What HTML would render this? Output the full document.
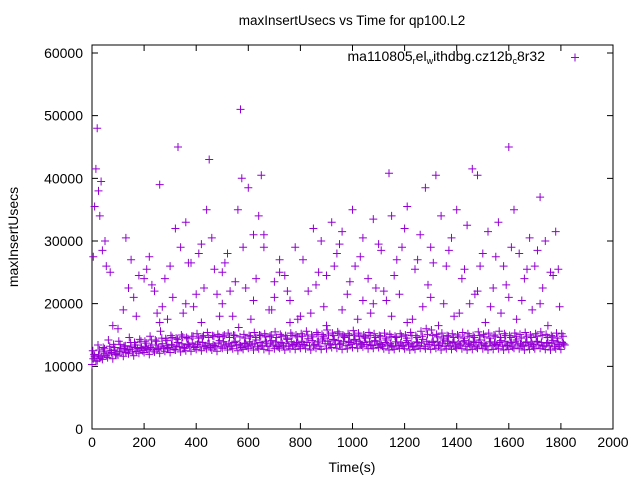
<!DOCTYPE html>
<html><head><meta charset="utf-8"><style>
html,body{margin:0;padding:0;background:#fff}
svg{display:block;font-family:"Liberation Sans",sans-serif}
</style></head><body>
<svg id="chart" width="640" height="480" viewBox="0 0 640 480" xmlns="http://www.w3.org/2000/svg">
<rect width="640" height="480" fill="#fff"/>
<text x="352" y="25" font-size="13.5" text-anchor="middle">maxInsertUsecs vs Time for qp100.L2</text>
<text transform="translate(18,237) rotate(-90)" font-size="14" text-anchor="middle">maxInsertUsecs</text>
<text x="352" y="472" font-size="14" text-anchor="middle">Time(s)</text>
<g id="axes"></g>
<g id="points"></g>
<g>
<text x="545" y="61" font-size="14" text-anchor="end">ma110805<tspan font-size="9" dy="3">r</tspan><tspan dy="-3">el</tspan><tspan font-size="9" dy="3">w</tspan><tspan dy="-3">ithdbg.cz12b</tspan><tspan font-size="9" dy="3">c</tspan><tspan dy="-3">8r32</tspan></text>
<path d="M571 57.5h8M575 53.5v8" stroke="#9400d3" stroke-width="1"/>
</g>
</svg>
<script>
const xTicks=[0,200,400,600,800,1000,1200,1400,1600,1800,2000];
const yTicks=[0,10000,20000,30000,40000,50000,60000];
const bandTimes=[];for(let t=0;t<=1800;t+=20)bandTimes.push(t);
const bandLow=[10.3,10.9,11.1,11.4,11.2,11.8,11.6,12.0,11.7,12.1,12.2,11.9,12.3,12.1,12.4,12.2,12.6,12.3,12.5,12.4,12.7,12.5,12.8,12.6,12.4,12.9,12.6,12.8,12.5,12.7,12.9,12.6,12.8,12.7,12.5,12.8,12.9,12.6,12.8,12.7,12.9,12.8,12.6,12.9,12.7,12.8,13.0,12.9,12.7,12.8,13.0,12.9,13.1,12.8,12.9,13.0,12.8,12.6,12.7,12.9,12.8,12.6,12.7,12.9,12.8,12.7,12.9,12.6,12.8,12.7,12.9,12.8,12.6,12.7,12.9,12.8,12.6,12.7,12.8,12.6,12.7,12.9,12.8,12.6,12.7,12.8,12.9,12.7,12.6,12.8,12.7];
const bandMid=[11.2,11.8,12.3,12.0,12.6,12.4,12.9,12.7,13.0,12.8,13.2,13.0,13.4,13.1,13.3,13.5,13.2,13.6,13.4,13.7,13.5,13.8,13.6,13.4,13.7,13.9,13.6,13.8,13.5,13.7,13.9,13.6,13.8,14.0,13.7,13.9,13.8,13.6,13.9,13.7,14.0,13.8,14.1,13.9,14.2,14.0,14.3,14.1,13.9,14.0,14.2,14.0,13.8,13.9,14.1,13.7,13.8,13.6,13.9,13.7,13.8,13.6,13.9,13.7,14.0,13.8,13.9,13.7,14.0,13.8,13.6,13.9,13.7,14.0,13.8,13.6,13.9,13.7,13.8,14.0,13.7,13.9,13.6,13.8,13.7,13.9,13.8,13.6,13.7,13.9,13.8];
const bandHigh=[12.5,13.4,13.0,14.2,13.5,14.0,13.2,14.6,13.8,14.3,14.0,14.8,14.2,15.6,14.4,14.9,14.5,15.0,14.6,14.8,15.2,14.7,15.4,14.9,15.1,14.8,15.3,15.0,16.2,15.1,14.9,15.4,15.0,15.2,14.8,15.5,15.1,14.9,15.3,15.0,15.2,15.6,15.0,15.4,15.1,15.8,15.3,15.5,15.0,15.2,15.7,15.3,15.0,15.4,15.2,14.9,15.3,15.1,14.8,15.2,15.0,15.4,14.9,15.6,16.0,15.8,15.1,15.3,14.9,15.2,15.0,15.4,15.2,14.9,15.5,15.1,15.3,15.0,15.6,15.2,14.9,15.3,15.1,15.4,15.0,15.2,15.5,15.1,14.9,15.3,15.2];
const bandOffset=[11.6,11.3,12.0,12.5,11.9,12.8,12.2,13.1,12.4,13.0,12.9,13.4,12.7,13.6,12.9,13.3,13.8,13.0,13.5,13.2,13.9,13.1,13.6,13.3,14.1,13.4,13.2,14.0,13.3,13.6,13.4,14.2,13.3,13.7,14.1,13.2,13.6,14.3,13.4,13.8,13.5,14.4,13.3,13.9,14.5,13.6,14.2,13.5,14.6,13.8,14.3,13.6,14.5,13.4,14.0,13.5,14.2,13.3,13.9,13.4,14.1,13.2,13.8,14.3,13.5,14.0,13.3,14.2,13.6,13.9,13.4,14.1,13.5,13.8,14.2,13.3,13.9,13.5,14.1,13.4,13.8,14.2,13.4,13.9,13.5,14.0,13.3,13.8,14.1,13.5,13.6];
const bandExtra1=[10.8,11.5,11.7,12.2,12.0,12.4,12.6,12.3,12.9,12.5,12.7,12.6,12.9,12.8,13.0,12.7,13.1,12.9,13.2,13.0,13.1,13.3,13.0,13.2,13.1,13.4,13.2,13.3,13.0,13.2,13.4,13.1,13.3,13.2,13.4,13.1,13.3,13.2,13.5,13.2,13.4,13.3,13.5,13.2,13.6,13.4,13.5,13.6,13.3,13.5,13.6,13.4,13.5,13.3,13.4,13.2,13.4,13.1,13.3,13.2,13.4,13.1,13.3,13.2,13.5,13.3,13.4,13.2,13.3,13.1,13.4,13.2,13.3,13.1,13.4,13.2,13.3,13.4,13.2,13.3,13.1,13.4,13.2,13.3,13.1,13.4,13.2,13.3,13.1,13.2,13.4];
const bandExtra2=[11.9,12.6,12.8,13.2,13.0,13.5,13.3,13.8,13.4,14.0,13.7,14.2,14.0,14.5,14.1,14.6,14.3,14.7,14.4,14.8,14.5,14.9,14.6,14.8,14.7,15.0,14.6,14.9,14.7,14.5,14.8,14.6,14.9,14.7,15.0,14.6,14.8,14.5,14.9,14.7,14.8,15.0,14.7,15.1,14.8,15.0,14.9,15.2,14.8,14.9,15.0,14.8,14.7,14.9,14.6,14.8,14.5,14.7,14.6,14.8,14.5,14.9,14.6,14.8,15.1,14.9,14.7,14.5,14.8,14.6,14.7,14.5,14.8,14.6,14.9,14.7,14.5,14.8,14.6,14.9,14.6,14.8,14.5,14.7,14.6,14.8,14.9,14.6,14.7,14.5,14.8];
const outTimes=[5,10,15,20,25,30,35,40,50,55,70,80,100,130,150,160,180,200,220,240,260,270,290,300,320,330,340,360,380,400,420,440,450,460,480,500,520,560,570,575,590,600,620,640,650,660,700,720,740,760,780,800,830,850,870,880,900,920,940,960,980,1000,1010,1040,1060,1080,1100,1120,1140,1150,1170,1200,1210,1240,1260,1280,1300,1320,1340,1360,1380,1400,1420,1440,1460,1480,1500,1520,1540,1560,1580,1600,1620,1640,1660,1680,1700,1720,1740,1760,1780,1790,
120,260,350,420,500,540,610,680,760,840,900,960,1020,1080,1150,1210,1270,1330,1390,1450,1510,1570,1630,1690,1750,1040,1180,1300,1480,700,620,360,1600,1720,
140,170,210,230,250,280,310,370,390,410,430,470,490,510,530,550,580,630,660,690,720,750,790,810,860,890,930,950,990,1030,1070,1090,1110,1130,1160,1190,1230,1250,1290,1310,1350,1370,1410,1430,1470,1490,1530,1550,1590,1610,1650,1670,1710,1730,1770,1795];
const outValues=[27500,35500,41500,48000,38000,34000,39500,28500,30000,26000,25000,16500,16000,30500,27000,21000,24500,24000,27500,22000,39000,19500,17500,26000,32000,45000,29000,33000,26500,21500,29500,35000,43000,30500,21500,25000,28000,35000,51000,40000,22500,38500,31000,34000,40500,29000,23500,27000,24500,20500,29000,18000,22000,32000,25000,30000,24500,33000,28000,31500,21500,35000,26000,30500,24000,33500,29500,22000,40800,34000,27000,32000,35500,25500,31000,38500,29000,40500,34000,26000,30500,35000,24000,32500,41500,40500,28000,31500,22500,33000,26000,45000,35000,28000,24000,30500,26000,37000,30000,25000,31500,25500,
19000,17000,18500,17000,20000,18000,17500,19000,17000,18500,16500,19000,17500,20000,18000,17000,19500,16500,18000,20000,17000,18500,17500,19000,16500,20500,21500,21000,22000,21000,20500,20000,21000,20000,
22500,18000,25500,23000,18500,24000,21000,26500,19500,28000,22500,25500,18000,26500,22000,23500,29000,24000,31000,19000,25000,22000,17500,27000,23000,19500,26000,29500,23500,27500,18500,22500,28500,20500,24500,29000,17500,27000,23000,26500,20000,28500,18500,25500,21500,26000,19500,27500,23000,29000,20500,25500,28500,22500,24500,19500];

const L=92,R=613,T=45,B=429;
const xs=v=>L+(v/2000)*(R-L);
const ys=v=>B-(v/60000)*(B-53);
const NS="http://www.w3.org/2000/svg";
const axes=document.getElementById('axes');
function mk(tag,attrs,parent){const e=document.createElementNS(NS,tag);for(const k in attrs)e.setAttribute(k,attrs[k]);parent.appendChild(e);return e;}
xTicks.forEach(v=>{
  const x=xs(v);
  const tk=mk('path',{d:`M${x} ${B}v-6M${x} ${T}v6`,stroke:'#000','stroke-width':1},axes);
  
  
  const t=mk('text',{x:x,y:B+18,'font-size':14,'text-anchor':'middle'},axes);
  t.textContent=v;
  
  
});
yTicks.forEach(v=>{
  const y=ys(v);
  const tk=mk('path',{d:`M${L} ${y}h6M${R} ${y}h-6`,stroke:'#000','stroke-width':1},axes);
  
  
  const t=mk('text',{x:L-9,y:y+5,'font-size':14,'text-anchor':'end'},axes);
  t.textContent=v;
  
  
});
const frame=mk('rect',{x:L,y:T,width:R-L,height:B-T,fill:'none',stroke:'#000','stroke-width':1},axes);



const pts=document.getElementById('points');
let d='';
function plus(t,v){const x=xs(t),y=ys(v);d+=`M${(x-4).toFixed(1)} ${y.toFixed(1)}h8M${x.toFixed(1)} ${(y-4).toFixed(1)}v8`;}
bandTimes.forEach((t,i)=>{
  plus(t,bandLow[i]*1000);
  plus(t+5,bandMid[i]*1000);
  plus(t+3,bandHigh[i]*1000);
  plus(t+10,bandOffset[i]*1000);
  plus(t+15,bandExtra1[i]*1000);
  plus(t+8,bandExtra2[i]*1000);
});
outTimes.forEach((t,i)=>plus(t,outValues[i]));
const p=mk('path',{d:d,stroke:'#9400d3','stroke-width':1,fill:'none'},pts);


</script>
</body></html>
